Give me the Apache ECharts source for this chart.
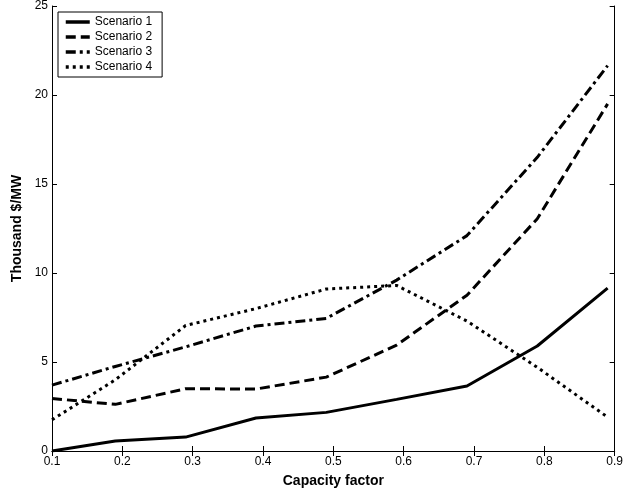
<!DOCTYPE html>
<html>
<head>
<meta charset="utf-8">
<script src="https://cdn.jsdelivr.net/npm/echarts@6/dist/echarts.min.js"></script>
<style>html,body{margin:0;padding:0;background:#fff}#c{width:626px;height:498px}</style>
</head>
<body>
<div id="c"></div>
<script>
const capacity = [0.1, 0.19, 0.29, 0.39, 0.49, 0.59, 0.69, 0.79, 0.89];
const scenario1 = [0, 0.56, 0.78, 1.85, 2.17, 2.9, 3.65, 5.9, 9.15];
const scenario2 = [2.95, 2.62, 3.5, 3.48, 4.15, 5.95, 8.75, 13.05, 19.5];
const scenario3 = [3.7, 4.75, 5.85, 7.02, 7.45, 9.6, 12.1, 16.5, 21.65];
const scenario4 = [1.75, 4.0, 7.05, 8.0, 9.1, 9.3, 7.3, 4.7, 1.9];
const names = ['Scenario 1', 'Scenario 2', 'Scenario 3', 'Scenario 4'];
const dashes = ['solid', [10, 5], [10, 4, 3, 4], [3, 4]];

const font = 'Liberation Sans, Arial, sans-serif';
const pair = (ys) => capacity.map((x, i) => [x, ys[i]]);

const axisCommon = {
  axisLine: {show: true, lineStyle: {color: '#000', width: 1}},
  axisTick: {show: true, inside: true, length: 5, lineStyle: {color: '#000'}},
  splitLine: {show: false}
};

const chart = echarts.init(document.getElementById('c'), null, {renderer: 'canvas'});
chart.setOption({
  backgroundColor: '#fff',
  animation: false,
  textStyle: {fontFamily: font},
  grid: {left: 52, right: 10, top: 5, bottom: 47},
  legend: {
    left: 58, top: 12, orient: 'vertical',
    data: names,
    itemWidth: 24, itemHeight: 10, itemGap: 1,
    padding: [3, 10, 3, 6],
    borderColor: '#000', borderWidth: 1, backgroundColor: '#fff',
    itemStyle: {opacity: 0},
    lineStyle: {width: 3.5},
    textStyle: {fontFamily: font, fontSize: 12, color: '#000', lineHeight: 14}
  },
  xAxis: [
    Object.assign({
      type: 'value', min: 0.1, max: 0.9, interval: 0.1,
      name: 'Capacity factor', nameLocation: 'middle', nameGap: 23,
      nameTextStyle: {fontFamily: font, fontSize: 14, fontWeight: 'bold', color: '#000'},
      axisLabel: {color: '#000', fontSize: 12, fontFamily: font, margin: 5,
        formatter: v => (Math.round(v * 10) / 10).toString()}
    }, axisCommon),
    Object.assign({
      type: 'value', min: 0.1, max: 0.9, interval: 0.1, position: 'top',
      axisLabel: {show: false}
    }, axisCommon)
  ],
  yAxis: [
    Object.assign({
      type: 'value', min: 0, max: 25, interval: 5,
      name: 'Thousand $/MW', nameLocation: 'middle', nameGap: 17,
      nameTextStyle: {fontFamily: font, fontSize: 14, fontWeight: 'bold', color: '#000'},
      axisLabel: {color: '#000', fontSize: 12, fontFamily: font, margin: 4}
    }, axisCommon),
    Object.assign({
      type: 'value', min: 0, max: 25, interval: 5, position: 'right',
      axisLabel: {show: false}
    }, axisCommon)
  ],
  series: [scenario1, scenario2, scenario3, scenario4].map((d, i) => ({
    name: names[i], type: 'line', data: pair(d),
    showSymbol: false, symbol: 'none',
    lineStyle: {color: '#000', width: 3, type: dashes[i], cap: 'butt'},
    itemStyle: {color: '#000'}
  }))
});
</script>
</body>
</html>
